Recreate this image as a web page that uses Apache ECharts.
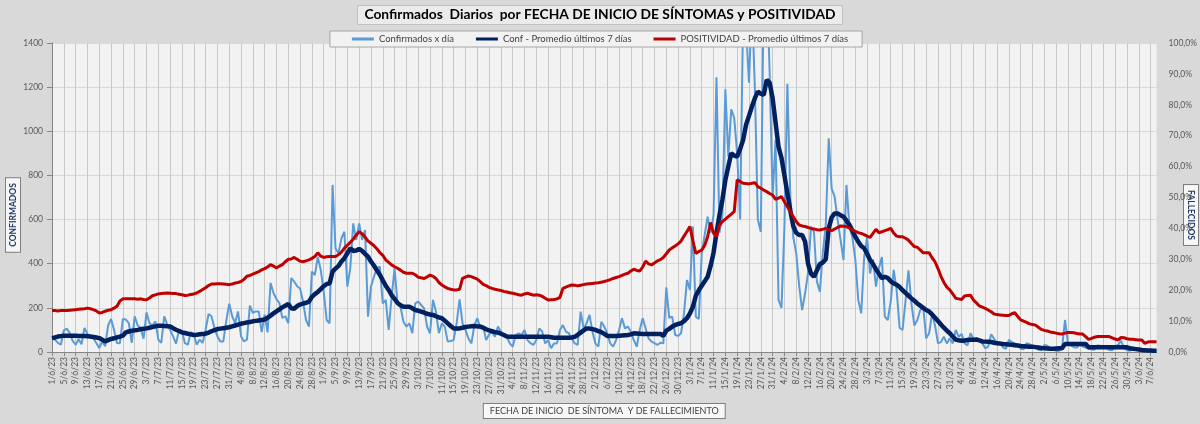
<!DOCTYPE html>
<html>
<head>
<meta charset="utf-8">
<script src="https://cdn.jsdelivr.net/npm/echarts@6/dist/echarts.min.js"></script>
<style>
html,body{margin:0;padding:0;background:#d9d9d9;}
#chart{width:1200px;height:424px;}
</style>
</head>
<body>
<div id="chart"></div>
<script>
// Daily categories: 1/6/23 .. 9/6/24
var startDate = Date.UTC(2023, 5, 1);
var dayCount = 375;
var categories = [];
for (var d = 0; d < dayCount; d++) {
  var dt = new Date(startDate + d * 86400000);
  categories.push(dt.getUTCDate() + '/' + (dt.getUTCMonth() + 1) + '/' + String(dt.getUTCFullYear()).slice(2));
}

// Confirmados x día
var confirmadosDia = [
63,56,41,33,98,106,86,
50,33,58,35,109,82,65,
62,41,18,48,26,120,150,
101,41,40,150,147,131,41,
162,120,110,60,180,130,120,
139,56,41,162,125,100,71,
38,100,95,40,33,90,80,
33,56,41,100,172,162,109,
71,48,48,140,219,162,131,
184,71,48,56,210,177,184,
184,90,169,89,313,267,240,
222,154,162,131,335,320,298,
288,230,145,115,364,349,431,
372,274,145,130,757,470,447,
515,545,296,380,583,508,583,
508,553,160,296,341,379,387,
220,236,100,250,379,220,205,
137,115,130,85,220,228,213,
198,115,85,236,183,85,130,
115,47,50,54,130,239,130,
100,62,39,120,153,110,115,
54,80,92,69,115,92,75,
69,39,24,77,85,77,100,
54,40,32,54,107,92,39,
54,17,39,39,100,122,92,
85,60,39,32,183,107,130,
168,92,39,24,137,115,85,
39,24,54,100,153,107,115,
92,54,24,100,153,107,62,
47,40,32,42,39,293,155,
160,77,73,85,175,326,281,
568,160,150,447,530,613,540,
620,1245,540,620,1190,885,1100,
1060,900,600,1520,1470,1220,1600,
1190,600,545,1650,1700,1265,700,
961,236,200,568,1215,700,520,
447,300,190,266,360,568,545,
320,273,450,575,968,740,704,
600,508,417,757,568,520,420,
236,175,430,520,356,420,296,
380,430,160,145,230,372,280,
110,100,230,370,220,120,145,
190,205,62,85,175,120,39,
45,69,39,62,39,100,69,
82,39,30,85,60,55,50,
40,17,24,80,60,35,45,
20,15,55,45,39,30,15,
12,40,35,28,22,10,8,
32,28,20,12,5,6,18,
145,40,30,22,20,35,25,
20,15,12,10,30,28,22,
18,10,8,25,32,51,15,
8,6,18,15,12,8,5,
4,10,8,6
];

// Conf - Promedio últimos 7 días
var confPromedio = [
63,66,70,72,74,74,74,
74,74,73,72,72,71,70,
68,66,63,56,48,54,59,
62,66,70,74,89,93,96,
98,100,103,105,107,110,113,
116,119,119,118,117,116,108,
101,95,89,86,83,80,77,
78,80,82,83,88,94,99,
104,106,108,110,112,116,120,
124,128,131,134,136,139,141,
143,145,147,155,165,175,184,
193,202,210,217,198,196,208,
215,219,223,228,250,262,272,
285,298,308,311,364,378,390,
410,425,447,470,458,460,467,
458,445,432,410,392,370,350,
325,300,281,258,240,222,212,
205,205,205,198,190,187,183,
178,173,170,168,162,157,153,
142,130,118,107,107,107,110,
113,115,117,118,116,115,110,
103,98,94,90,88,83,77,
70,69,69,69,69,69,69,
69,69,69,69,69,69,69,
69,67,65,65,65,65,65,
65,66,69,78,88,98,107,
106,104,100,95,90,82,73,
73,73,73,74,75,76,77,
80,85,84,83,82,82,82,
82,82,82,82,73,97,105,
115,122,127,130,140,153,175,
205,255,280,300,320,341,390,
450,540,620,690,779,840,900,
890,885,920,960,1029,1070,1112,
1150,1180,1170,1165,1233,1220,1150,
1040,930,880,800,720,640,570,
540,530,530,500,400,355,341,
370,399,405,420,560,610,628,
628,620,613,595,576,550,522,
500,480,470,445,417,398,375,
355,334,341,335,320,311,305,
295,280,268,255,243,232,220,
210,200,190,183,170,155,140,
125,110,97,85,70,56,53,
51,52,54,55,56,57,53,
48,47,46,45,42,40,38,
36,35,34,33,31,29,27,
26,25,24,24,22,20,18,
17,16,15,15,16,17,17,
36,36,36,36,36,36,36,
36,21,21,21,21,21,21,
21,21,21,21,21,21,21,
21,17,15,13,11,9,8,
7,7,6,6
];

// POSITIVIDAD - Promedio últimos 7 días (%)
var positividad = [
13.4,13.4,13.3,13.4,13.4,13.4,13.5,
13.6,13.7,13.8,13.9,14.0,14.2,14.0,
13.7,13.3,12.6,12.8,13.2,13.5,13.7,
14.2,14.8,16.5,17.2,17.2,17.2,17.2,
17.2,17.1,17.2,17.0,16.9,17.5,18.2,
18.5,18.8,18.9,19.0,19.1,19.0,18.9,
18.9,18.7,18.5,18.3,18.4,18.6,18.8,
19.1,19.6,20.2,20.8,21.5,22.0,22.0,
22.1,22.1,22.0,21.9,21.8,22.0,22.3,
22.5,22.8,23.5,24.5,24.8,25.2,25.6,
26.0,26.6,27.0,27.5,28.3,27.8,27.2,
27.8,28.3,29.2,30.0,30.1,30.6,30.0,
29.4,29.2,29.5,29.8,30.3,30.9,32.1,
31.0,30.6,30.8,30.9,30.9,30.9,31.5,
32.3,33.6,34.5,35.5,36.5,37.8,38.9,
38.3,37.2,35.9,35.2,34.4,33.4,32.2,
31.3,29.8,29.0,28.2,27.6,27.1,26.5,
25.8,25.5,25.5,25.5,25.0,24.2,24.0,
23.8,24.3,24.9,24.5,23.8,22.5,21.7,
21.1,20.6,20.3,20.1,20.1,20.3,23.8,
24.2,24.6,24.4,24.0,23.6,22.8,21.9,
21.5,20.9,20.6,20.3,20.1,19.9,19.6,
19.4,19.2,19.0,18.8,18.5,18.4,18.8,
19.0,18.7,18.4,18.5,18.4,18.0,17.4,
16.8,16.9,17.0,17.2,17.7,20.6,21.0,
21.4,21.7,21.6,21.4,21.6,21.8,22.0,
22.1,22.2,22.3,22.4,22.6,22.8,23.1,
23.4,23.8,24.1,24.4,24.8,25.2,25.5,
26.2,26.8,26.4,26.2,27.5,29.4,28.5,
28.2,28.8,29.5,29.9,30.6,31.8,33.0,
33.7,34.3,35.0,35.9,37.5,39.0,40.6,
36.0,31.9,32.5,33.0,34.5,37.3,41.9,
38.5,37.3,41.0,42.2,43.0,43.8,44.6,
45.4,55.7,55.2,54.6,54.5,54.4,54.6,
54.8,53.5,53.0,52.4,51.9,51.3,50.8,
49.4,49.8,50.3,48.6,47.0,45.4,43.8,
42.2,41.1,40.8,40.6,40.3,40.0,39.8,
39.6,39.5,39.7,40.0,39.6,39.3,39.8,
40.3,40.8,40.7,40.6,40.1,39.5,39.0,
38.6,38.4,38.0,37.5,37.1,38.4,39.7,
38.6,38.9,39.3,39.6,40.0,38.5,37.5,
37.3,37.3,36.8,36.2,35.1,34.1,33.9,
33.0,32.1,32.1,32.1,30.5,29.2,27.0,
24.5,22.5,21.0,20.1,18.8,17.4,17.2,
17.0,18.1,18.3,18.4,16.8,15.9,14.9,
14.5,14.1,13.6,13.0,12.3,12.1,12.0,
11.9,11.8,11.8,12.4,12.7,11.5,10.4,
10.0,9.6,9.1,8.9,8.7,8.0,7.3,
7.0,6.8,6.5,6.3,6.1,5.9,5.8,
6.1,6.3,6.3,6.2,6.0,5.8,5.8,
5.0,4.1,4.4,4.8,5.0,5.0,5.0,
5.0,5.0,4.6,4.2,3.9,4.7,4.6,
4.3,4.1,4.1,4.0,3.9,3.9,2.8,
3.2,3.3,3.3,3.3
];

var leftTicks = {min: 0, max: 1400, interval: 200};
var rightTicks = {min: 0, max: 100, interval: 10};
var seriesNames = ['Confirmados x día', 'Conf - Promedio últimos 7 días', 'POSITIVIDAD - Promedio últimos 7 días'];

var FONT = 'Lato, "Liberation Sans", sans-serif';
var chart = echarts.init(document.getElementById('chart'), null, {renderer: 'canvas'});
chart.setOption({
  animation: false,
  backgroundColor: '#d9d9d9',
  textStyle: {fontFamily: FONT},
  title: {
    text: 'Confirmados  Diarios  por FECHA DE INICIO DE SÍNTOMAS y POSITIVIDAD',
    left: 'center',
    top: 5,
    padding: [3, 7, 3, 7],
    backgroundColor: '#ebebeb',
    borderColor: '#bfbfbf',
    borderWidth: 1,
    textStyle: {fontFamily: FONT, fontSize: 13.8, fontWeight: 'bold', color: '#000000'}
  },
  legend: {
    top: 31,
    left: 'center',
    padding: [3, 14, 3, 22],
    itemGap: 22,
    itemWidth: 22,
    itemHeight: 3,
    icon: 'rect',
    backgroundColor: '#f2f2f2',
    borderColor: '#a6a6a6',
    borderWidth: 1,
    textStyle: {fontFamily: FONT, fontSize: 9.5, color: '#404040'},
    data: [
      {name: seriesNames[0], icon: 'rect'},
      {name: seriesNames[1], icon: 'rect'},
      {name: seriesNames[2], icon: 'rect'}
    ]
  },
  grid: {
    left: 52, right: 40, top: 43, bottom: 72,
    show: true, backgroundColor: '#f2f2f2', borderWidth: 0
  },
  graphic: [
    {
      type: 'text', x: 13, y: 215, rotation: Math.PI / 2,
      style: {
        text: 'CONFIRMADOS', fontFamily: FONT, fontSize: 8.5, fontWeight: 'bold', fill: '#1f3864',
        align: 'center', verticalAlign: 'middle',
        backgroundColor: '#f7f7f7', borderColor: '#7f7f7f', borderWidth: 1, padding: [3, 5, 2, 5]
      }
    },
    {
      type: 'text', x: 1191, y: 215, rotation: -Math.PI / 2,
      style: {
        text: 'FALLECIDOS', fontFamily: FONT, fontSize: 8.5, fontWeight: 'bold', fill: '#1f3864',
        align: 'center', verticalAlign: 'middle',
        backgroundColor: '#f7f7f7', borderColor: '#7f7f7f', borderWidth: 1, padding: [3, 5, 2, 5]
      }
    }
  ],
  xAxis: {
    type: 'category',
    data: categories,
    boundaryGap: false,
    name: 'FECHA DE INICIO  DE SÍNTOMA  Y DE FALLECIMIENTO',
    nameLocation: 'middle',
    nameGap: 52,
    nameTextStyle: {
      fontFamily: FONT, fontSize: 9, color: '#404040',
      backgroundColor: '#f7f7f7', borderColor: '#7f7f7f', borderWidth: 1, padding: [3, 6, 2, 6]
    },
    axisLine: {lineStyle: {color: '#868686', width: 1}},
    axisTick: {show: true, interval: 3, length: 4, lineStyle: {color: '#868686'}},
    axisLabel: {interval: 3, rotate: 90, fontSize: 8.5, color: '#595959', margin: 5, fontFamily: FONT},
    splitLine: {show: true, interval: 3, lineStyle: {color: '#c8c8c8', width: 1}}
  },
  yAxis: [
    {
      type: 'value',
      min: leftTicks.min, max: leftTicks.max, interval: leftTicks.interval,
      axisLine: {show: true, lineStyle: {color: '#868686'}},
      axisTick: {show: true, length: 5, lineStyle: {color: '#868686'}},
      axisLabel: {fontSize: 8.5, color: '#595959', margin: 9, fontFamily: FONT,
        formatter: function (v) { return String(v); }},
      splitLine: {show: true, lineStyle: {color: '#d9d9d9', width: 1}}
    },
    {
      type: 'value',
      position: 'right',
      min: rightTicks.min, max: rightTicks.max, interval: rightTicks.interval,
      axisLine: {show: false},
      axisTick: {show: false},
      axisLabel: {
        fontSize: 8.5, color: '#595959', margin: 12, fontFamily: FONT,
        formatter: function (v) { return v.toFixed(1).replace('.', ',') + '%'; }
      },
      splitLine: {show: false}
    }
  ],
  series: [
    {
      name: seriesNames[0], type: 'line', data: confirmadosDia,
      yAxisIndex: 0, symbol: 'none', showSymbol: false, clip: true,
      lineStyle: {color: '#5b9bd5', width: 2}, itemStyle: {color: '#5b9bd5'}
    },
    {
      name: seriesNames[1], type: 'line', data: confPromedio,
      yAxisIndex: 0, symbol: 'none', showSymbol: false, clip: true,
      lineStyle: {color: '#002060', width: 4.5}, itemStyle: {color: '#002060'}
    },
    {
      name: seriesNames[2], type: 'line', data: positividad,
      yAxisIndex: 1, symbol: 'none', showSymbol: false, clip: true,
      lineStyle: {color: '#c00000', width: 3}, itemStyle: {color: '#c00000'}
    }
  ]
});
</script>
</body>
</html>
